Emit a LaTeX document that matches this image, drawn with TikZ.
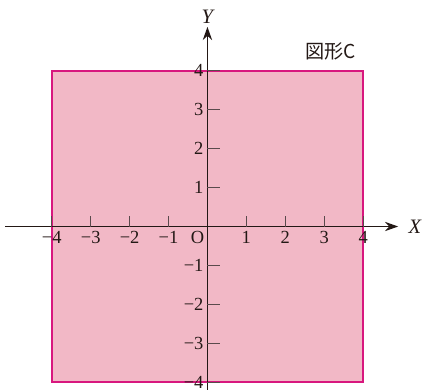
\documentclass[tikz,border=0pt]{standalone}
\usepackage{fontspec}
\setmainfont{Liberation Serif}
\newfontfamily\jpfont{Noto Sans CJK JP}
\usepackage{tikz}
\usetikzlibrary{arrows.meta, positioning}
\definecolor{regfill}{HTML}{F2B8C6}
\definecolor{regedge}{HTML}{D8177E}
\definecolor{axiscol}{HTML}{231815}
\definecolor{tickcol}{HTML}{5A4A4C}
\tikzset{
  axisline/.style = {-{Stealth[length=3.4mm, width=2.4mm]}, line width=0.9pt, draw=axiscol},
  tickmark/.style = {line width=0.6pt, draw=tickcol},
  region/.style   = {fill=regfill, draw=regedge, line width=1.5pt},
  ticklbl/.style  = {font=\fontsize{13.5}{14}\selectfont, inner sep=1pt, text=axiscol},
  axislbl/.style  = {font=\fontsize{15}{16}\selectfont\itshape, inner sep=1pt, text=axiscol},
  figlbl/.style   = {font=\fontsize{14}{15}\selectfont\jpfont, inner sep=1pt, text=axiscol},
}

\begin{document}
\begin{tikzpicture}
    \useasboundingbox (-5.33,-4.18) rectangle (5.59,5.82);

    % Region : the square
    \draw[region] (-4,-4) rectangle (4,4);

    % Axes
    \coordinate (xs) at (-5.2,0);
    \coordinate (xe) at (4.9,0);
    \coordinate (ys) at (0,-4.3);
    \coordinate (ye) at (0,5.13);
    \draw[axisline] (xs) -- (xe);
    \draw[axisline] (ys) -- (ye);
    \node[axislbl] (xl) at (5.33,0) {X};
    \node[axislbl] (yl) at (0,5.38) {Y};

    % Ticks and labels
    \foreach \k/\t in {-4/−4,-3/−3,-2/−2,-1/−1,1/1,2/2,3/3,4/4} {
      \draw[tickmark] (\k,0) -- (\k,0.27);
      \draw[tickmark] (0,\k) -- (0.31,\k);
      \node[ticklbl, anchor=north] (xt\k) at (\k,-0.08) {\t};
      \node[ticklbl, anchor=east]  (yt\k) at (-0.06,\k) {\t};
    }
    \node[ticklbl, anchor=north east] (orig) at (-0.04,-0.08) {O};

    \node[figlbl] (name) at (3.17,4.5) {図形C};
  \end{tikzpicture}
\end{document}
